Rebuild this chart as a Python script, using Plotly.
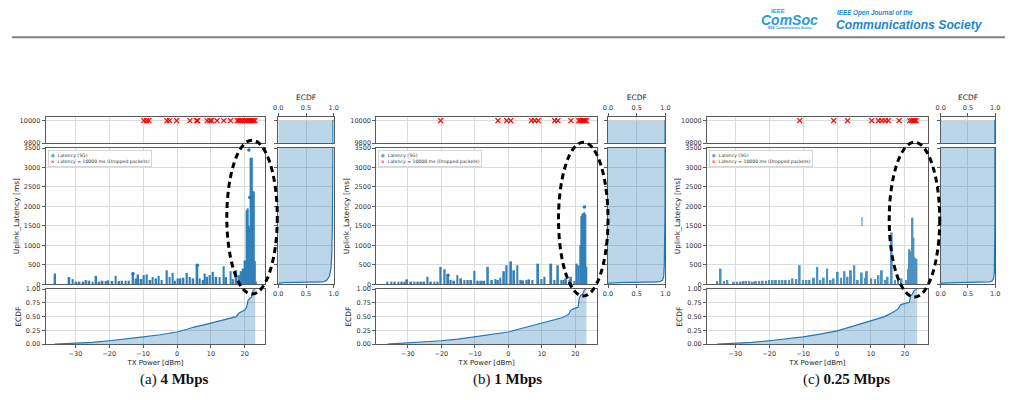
import plotly.graph_objects as go

W, H = 1018, 400

# ---------------- data ----------------
# (a) 4 Mbps : latency stripes (TX power [dBm], max latency [ms])
tx_a = [-36.0, -31.8, -30.8, -29.8, -28.8, -27.7, -26.9, -25.9, -24.9, -23.9, -23.0, -22.0,
        -21.0, -20.3, -19.1, -18.1, -17.1, -16.2, -15.2, -14.2, -13.0, -12.1, -11.5, -10.5,
        -9.8, -8.9, -7.9, -7.2, -6.2, -5.4, -4.5, -3.0, -2.2, -1.3, -0.6, 0.2, 0.9, 1.9, 2.9,
        3.8, 4.8, 6.0, 6.7, 7.7, 8.2, 8.9, 9.7, 10.6, 11.6, 12.6, 13.8, 14.5, 15.8, 16.5,
        17.5, 18.3, 18.9, 19.6, 20.2, 20.6, 20.9, 21.2, 21.5, 21.8, 22.1, 22.4, 22.7, 23.0, 23.3]
lat_a = [277, 185, 134, 67, 67, 67, 109, 92, 67, 218, 67, 92,
         84, 100, 84, 218, 84, 92, 92, 92, 268, 151, 252, 134,
         235, 252, 109, 185, 151, 218, 109, 361, 185, 294, 92, 151, 151, 168, 294,
         185, 151, 487, 151, 109, 277, 193, 235, 319, 193, 185, 461, 185, 336, 134,
         361, 235, 336, 403, 612, 1900, 1950, 1500, 1450, 3250, 3250, 2400, 2380, 600, 70]
pts_tx_a = [21.2, 21.5, -13.0, 6.0]
pts_lat_a = [3450, 2230, 268, 487]
drop_tx_a = [-9.8, -9.0, -8.3, -3.0, -2.2, -0.1, 3.8, 5.8, 6.1, 8.9, 9.7, 10.2, 11.8, 13.8,
             15.8, 17.8, 18.3, 18.8, 19.4, 20.1, 20.6, 21.1, 21.6, 22.1, 22.5, 23.0]
ecdf_tx_a = [-36.1, -30, -25, -20, -15, -10, -5, 0, 3, 5, 8, 10, 13, 16, 17.5, 18.2, 19,
             20, 20.5, 21, 21.5, 22, 22.5, 23.1]
ecdf_txv_a = [0, 0.012, 0.03, 0.06, 0.09, 0.13, 0.17, 0.22, 0.27, 0.31, 0.35, 0.38, 0.42,
              0.47, 0.50, 0.56, 0.59, 0.62, 0.66, 0.80, 0.83, 0.86, 0.98, 1.0]
ecdf_lat_a = [20, 30, 40, 50, 60, 100, 200, 400, 800, 1500, 2500, 3450, 10000, 10000]
ecdf_latv_a = [0, 0.02, 0.1, 0.5, 0.8, 0.87, 0.92, 0.95, 0.965, 0.975, 0.982, 0.985, 0.985, 1.0]

# (b) 1 Mbps
tx_b = [-36.1, -34.9, -33.9, -32.8, -31.8, -31.0, -30.2, -29.0, -28.0, -27.0, -26.1, -25.1,
        -24.1, -23.1, -22.1, -21.1, -20.2, -19.0, -18.0, -17.2, -16.2, -15.2, -14.1, -13.1,
        -12.1, -11.1, -10.1, -9.1, -8.1, -7.2, -6.1, -4.9, -3.9, -3.1, -2.4, -1.3, -0.5, 0.8,
        1.7, 2.7, 3.7, 4.4, 5.4, 6.2, 7.2, 8.9, 9.9, 10.8, 12.8, 13.8, 14.8, 15.8, 16.5, 17.2,
        18.2, 18.7, 19.7, 20.4, 21.0, 21.5, 21.8, 22.1, 22.4, 22.7, 23.0, 23.3]
lat_b = [67, 67, 67, 67, 67, 67, 126, 67, 67, 67, 67, 67,
         193, 67, 67, 67, 446, 387, 210, 109, 92, 235, 151, 109,
         109, 109, 345, 92, 92, 92, 446, 109, 134, 109, 168, 336, 488, 589,
         361, 488, 109, 100, 109, 126, 109, 530, 134, 193, 530, 109, 488, 109, 109, 151,
         109, 193, 84, 530, 488, 1000, 1750, 1800, 1830, 1850, 1800, 450]
pts_tx_b = [-18.0, 22.7]
pts_lat_b = [235, 1985]
drop_tx_b = [-20.2, -3.1, -0.5, 0.7, 6.9, 7.9, 8.9, 13.8, 14.8, 18.7, 21.0, 21.5, 22.0,
             22.5, 22.9, 23.3]
ecdf_tx_b = [-36.1, -30, -25, -20, -15, -10, -5, 0, 3, 5.5, 9, 13, 16, 18, 18.5, 19.5,
             20.8, 21.2, 21.6, 22.2, 22.7, 23.3]
ecdf_txv_b = [0, 0.018, 0.035, 0.06, 0.09, 0.13, 0.18, 0.22, 0.27, 0.31, 0.36, 0.42, 0.48,
              0.54, 0.61, 0.645, 0.67, 0.84, 0.89, 0.91, 0.99, 1.0]
ecdf_lat_b = [20, 30, 40, 50, 60, 100, 200, 500, 1000, 1500, 2000, 10000, 10000]
ecdf_latv_b = [0, 0.02, 0.2, 0.6, 0.88, 0.95, 0.97, 0.98, 0.985, 0.99, 0.993, 0.993, 1.0]

# (c) 0.25 Mbps
tx_c = [-35.3, -34.3, -33.3, -32.3, -30.4, -29.4, -28.4, -27.5, -26.8, -25.8, -24.8, -23.9,
        -22.9, -21.9, -20.9, -20.0, -19.0, -18.0, -17.0, -16.1, -15.1, -14.1, -13.1, -12.0,
        -11.0, -10.0, -9.0, -8.1, -6.8, -5.8, -4.9, -3.9, -2.9, -1.9, -1.0, 0.2, 1.2, 2.2,
        3.1, 4.1, 5.1, 6.1, 7.3, 8.3, 8.8, 10.1, 11.2, 12.2, 13.2, 14.2, 14.9, 16.1, 17.1,
        18.0, 19.0, 20.5, 21.0, 21.3, 21.6, 21.9, 22.2, 22.5, 22.8, 23.1, 23.4]
lat_c = [84, 404, 84, 109, 67, 67, 67, 84, 84, 84, 67, 84,
         84, 92, 92, 109, 109, 109, 109, 109, 109, 109, 151, 134,
         488, 109, 109, 109, 168, 446, 109, 168, 404, 109, 151, 320, 168, 336,
         193, 361, 488, 109, 303, 168, 336, 151, 134, 235, 361, 109, 193, 1330, 109,
         193, 151, 109, 400, 900, 850, 600, 1710, 1200, 700, 660, 650]
float_tx_c = [7.3]
float_lo_c = [1500]
float_hi_c = [1730]
drop_tx_c = [-11.0, -1.0, 3.1, 10.2, 12.2, 13.2, 14.2, 15.1, 18.3, 21.4, 22.0, 22.5, 22.9, 23.3]
ecdf_tx_c = [-35.3, -30, -25, -20, -15, -10, -5, 0, 5, 10, 14, 16.5, 18, 18.8, 20, 21.3,
             21.7, 22.2, 22.8, 23.6]
ecdf_txv_c = [0, 0.012, 0.03, 0.06, 0.095, 0.13, 0.18, 0.24, 0.33, 0.42, 0.50, 0.58, 0.64,
              0.72, 0.74, 0.76, 0.88, 0.91, 0.98, 1.0]
ecdf_lat_c = [20, 30, 40, 50, 60, 80, 150, 300, 700, 1700, 10000, 10000]
ecdf_latv_c = [0, 0.03, 0.3, 0.7, 0.9, 0.94, 0.97, 0.985, 0.99, 0.995, 0.995, 1.0]

captions = ["(a) <b>4 Mbps</b>", "(b) <b>1 Mbps</b>", "(c) <b>0.25 Mbps</b>"]
drop_value = 10000
main_ticks = [0, 500, 1000, 1500, 2000, 2500, 3000, 3500]
drop_ticks = [9800, 10000]
tx_ticks = [-30, -20, -10, 0, 10, 20]
ecdf_ticks = [0, 0.25, 0.5, 0.75, 1.0]
side_ticks = [0, 0.5, 1.0]

# ---------------- layout geometry (pixels) ----------------
panels = [
    dict(tx=tx_a, lat=lat_a, ptx=pts_tx_a, plat=pts_lat_a, drop=drop_tx_a,
         etx=ecdf_tx_a, etv=ecdf_txv_a, elat=ecdf_lat_a, elv=ecdf_latv_a,
         main=(41, 263), side=(276, 332), xr=[-38.8, 26.1], ell=(224, 275, 139, 296),
         op=0.92, cap_x=171),
    dict(tx=tx_b, lat=lat_b, ptx=pts_tx_b, plat=pts_lat_b, drop=drop_tx_b,
         etx=ecdf_tx_b, etv=ecdf_txv_b, elat=ecdf_lat_b, elv=ecdf_latv_b,
         main=(375, 598), side=(609, 667), xr=[-39.4, 26.5], ell=(559, 609, 141, 298),
         op=0.92, cap_x=507),
    dict(tx=tx_c, lat=lat_c, ptx=[], plat=[], drop=drop_tx_c,
         etx=ecdf_tx_c, etv=ecdf_txv_c, elat=ecdf_lat_c, elv=ecdf_latv_c,
         main=(709, 932), side=(945, 1000), xr=[-38.3, 26.75], ell=(893, 944, 141, 299),
         op=0.8, cap_x=850),
]
ROW_TOP = (115, 142)
ROW_MAIN = (147, 286)
ROW_BOT = (291, 347)

BLUE = '#1f77b4'
FILL = 'rgba(31,119,180,0.3)'
FRAME = '#5a5a5a'
GRID = '#dcdcdc'
TICKFONT = dict(family='DejaVu Sans', size=6.5, color='#333')
TITLEFONT = dict(family='DejaVu Sans', size=7.5, color='#222')


def xd(p):
    return [p[0] / W, p[1] / W]


def yd(p):
    return [1 - p[1] / H, 1 - p[0] / H]


def nm(n):
    return '' if n == 1 else str(n)


fig = go.Figure()
layout = dict(width=W, height=H, margin=dict(l=0, r=0, t=0, b=0),
              paper_bgcolor='white', plot_bgcolor='white', showlegend=False,
              barmode='overlay', font=dict(family='DejaVu Sans', color='#333'),
              annotations=[], shapes=[])


def base_axis(**kw):
    d = dict(showline=True, mirror=True, linecolor=FRAME, linewidth=1,
             showgrid=True, gridcolor=GRID, gridwidth=1, zeroline=False,
             ticks='outside', ticklen=3, tickwidth=1, tickcolor=FRAME,
             tickfont=TICKFONT, fixedrange=True)
    d.update(kw)
    return d


for p, P in enumerate(panels):
    b = 5 * p
    nT, nM, nB, nRT, nRM = b + 1, b + 2, b + 3, b + 4, b + 5

    # --- top: dropped packets
    layout['xaxis' + nm(nT)] = base_axis(domain=xd(P['main']), range=P['xr'], tickvals=tx_ticks,
                                         showticklabels=False, ticks='', anchor='y' + nm(nT))
    layout['yaxis' + nm(nT)] = base_axis(domain=yd(ROW_TOP), range=[9800, 10035], tickvals=drop_ticks,
                                         tickformat='d', anchor='x' + nm(nT))
    fig.add_trace(go.Scatter(x=P['drop'], y=[drop_value] * len(P['drop']), mode='markers',
                             marker=dict(symbol='x-thin', size=5, line=dict(width=1.3, color='red')),
                             xaxis='x' + nm(nT), yaxis='y' + nm(nT)))

    # --- main: latency
    layout['xaxis' + nm(nM)] = base_axis(domain=xd(P['main']), range=P['xr'], tickvals=tx_ticks,
                                         showticklabels=False, ticks='', anchor='y' + nm(nM))
    layout['yaxis' + nm(nM)] = base_axis(domain=yd(ROW_MAIN), range=[0, 3500], tickvals=main_ticks,
                                         anchor='x' + nm(nM),
                                         title=dict(text='Uplink_Latency [ms]', font=TITLEFONT, standoff=3))
    fig.add_trace(go.Bar(x=P['tx'], y=P['lat'], width=0.55, marker=dict(color=BLUE, line=dict(width=0)),
                         opacity=P['op'], xaxis='x' + nm(nM), yaxis='y' + nm(nM)))
    if p == 2:
        fig.add_trace(go.Bar(x=float_tx_c, y=[h - l for h, l in zip(float_hi_c, float_lo_c)],
                             base=float_lo_c, width=0.45, marker=dict(color=BLUE, line=dict(width=0)),
                             opacity=0.45, xaxis='x' + nm(nM), yaxis='y' + nm(nM)))
    if P['ptx']:
        fig.add_trace(go.Scatter(x=P['ptx'], y=P['plat'], mode='markers',
                                 marker=dict(size=3.5, color=BLUE),
                                 xaxis='x' + nm(nM), yaxis='y' + nm(nM)))

    # --- bottom: ECDF over TX power
    layout['xaxis' + nm(nB)] = base_axis(domain=xd(P['main']), range=P['xr'], tickvals=tx_ticks,
                                         anchor='y' + nm(nB),
                                         title=dict(text='TX Power [dBm]', font=dict(family='DejaVu Sans', size=7, color='#222'), standoff=3))
    layout['yaxis' + nm(nB)] = base_axis(domain=yd(ROW_BOT), range=[0, 1], tickvals=ecdf_ticks,
                                         tickformat='.2f', anchor='x' + nm(nB),
                                         title=dict(text='ECDF', font=TITLEFONT, standoff=3))
    fig.add_trace(go.Scatter(x=P['etx'], y=P['etv'], mode='lines', fill='tozeroy', fillcolor=FILL,
                             line=dict(color=BLUE, width=1.2),
                             xaxis='x' + nm(nB), yaxis='y' + nm(nB)))

    # --- right: ECDF over latency (top and main)
    layout['xaxis' + nm(nRT)] = base_axis(domain=xd(P['side']), range=[0, 1], tickvals=side_ticks,
                                          tickformat='.1f', side='top', anchor='y' + nm(nRT),
                                          title=dict(text='ECDF', font=TITLEFONT, standoff=2))
    layout['yaxis' + nm(nRT)] = base_axis(domain=yd(ROW_TOP), range=[9800, 10035], tickvals=drop_ticks,
                                          showticklabels=False, anchor='x' + nm(nRT))
    layout['xaxis' + nm(nRM)] = base_axis(domain=xd(P['side']), range=[0, 1], tickvals=side_ticks,
                                          tickformat='.1f', anchor='y' + nm(nRM))
    layout['yaxis' + nm(nRM)] = base_axis(domain=yd(ROW_MAIN), range=[0, 3500], tickvals=main_ticks,
                                          showticklabels=False, anchor='x' + nm(nRM))
    for n in (nRT, nRM):
        fig.add_trace(go.Scatter(x=P['elv'], y=P['elat'], mode='lines', fill='tozerox', fillcolor=FILL,
                                 line=dict(color=BLUE, width=1.2),
                                 xaxis='x' + nm(n), yaxis='y' + nm(n)))

    # --- legend box (text)
    layout['annotations'].append(dict(
        xref='paper', yref='paper', x=(P['main'][0] + 2) / W, y=1 - 149 / H,
        xanchor='left', yanchor='top', align='left', showarrow=False,
        text="<span style='color:#6fa8d6'>●</span>  Latency (5G)<br>"
             "<span style='color:red'><b>×</b></span>  Latency = 10000 ms (Dropped packets)",
        font=dict(family='DejaVu Sans', size=4.6, color='#333'),
        bgcolor='rgba(255,255,255,0.85)', bordercolor='#cccccc', borderwidth=0.8, borderpad=2))

    # --- dashed ellipse highlight
    ex0, ex1, ey0, ey1 = P['ell']
    layout['shapes'].append(dict(type='circle', xref='paper', yref='paper',
                                 x0=ex0 / W, x1=ex1 / W, y0=1 - ey1 / H, y1=1 - ey0 / H,
                                 line=dict(color='black', width=3, dash='6px,4px')))

    # --- caption
    layout['annotations'].append(dict(
        xref='paper', yref='paper', x=P['cap_x'] / W, y=1 - 383 / H, xanchor='center', yanchor='middle',
        showarrow=False, text=captions[p],
        font=dict(family='Liberation Serif', size=15, color='#111')))

# ---------------- header ----------------
layout['shapes'].append(dict(type='line', xref='paper', yref='paper', x0=7 / W, x1=1010 / W,
                             y0=1 - 34 / H, y1=1 - 34 / H, line=dict(color='#808080', width=2)))
LOGO = '#2a9ad8'
JOUR = '#1b86cf'
header = [
    ("<b>IEEE</b>", 781, 7.5, 6, LOGO, 'center'),
    ("<b><i>ComSoc</i></b>", 792, 16, 14, LOGO, 'center'),
    ("<b>IEEE Communications Society</b>", 793, 24.5, 3, LOGO, 'center'),
    ("<b><i>IEEE Open Journal of the</i></b>", 838, 9.5, 6.3, JOUR, 'left'),
    ("<b><i>Communications Society</i></b>", 837, 21, 12.2, JOUR, 'left'),
]
for txt, hx, hy, sz, col, anc in header:
    layout['annotations'].append(dict(xref='paper', yref='paper', x=hx / W, y=1 - hy / H,
                                      xanchor=anc, yanchor='middle', showarrow=False, text=txt,
                                      font=dict(family='Liberation Sans', size=sz, color=col)))

fig.update_layout(**layout)
fig.write_html("out.html")
